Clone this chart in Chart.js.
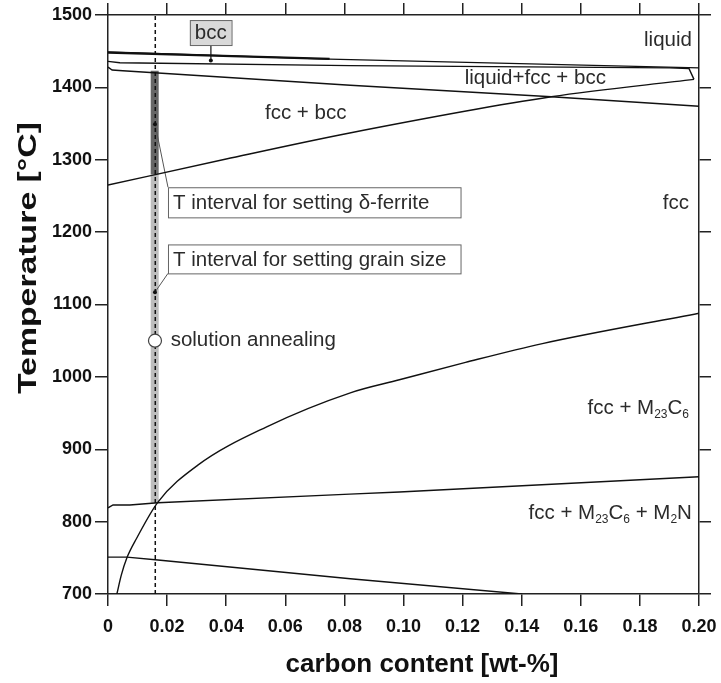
<!DOCTYPE html>
<html>
<head>
<meta charset="utf-8">
<script src="https://cdn.jsdelivr.net/npm/chart.js@4.4.0/dist/chart.umd.min.js"></script>
<style>
  html, body { margin: 0; padding: 0; background: #fff; }
</style>
</head>
<body>
<canvas id="phaseChart" width="721" height="683"></canvas>
<script>
// axis ticks
const xTicks = [0, 0.02, 0.04, 0.06, 0.08, 0.10, 0.12, 0.14, 0.16, 0.18, 0.20];
const xTickLabels = ["0", "0.02", "0.04", "0.06", "0.08", "0.10", "0.12", "0.14", "0.16", "0.18", "0.20"];
const yTicks = [700, 800, 900, 1000, 1100, 1200, 1300, 1400, 1500];
const yTickLabels = ["700", "800", "900", "1000", "1100", "1200", "1300", "1400", "1500"];

// phase boundaries, [carbon wt-%, temperature °C]
const liquidus = [[0, 1449], [0.075, 1439], [0.2, 1427]];
const bccUpper = [[0, 1448], [0.075, 1439.5]];
const bccLower = [[0, 1436], [0.004, 1434], [0.082, 1430], [0.19, 1427], [0.1966, 1426], [0.1983, 1411]];
const fccBccUpper = [[0, 1428], [0.0014, 1424], [0.005, 1423], [0.082, 1403], [0.15, 1387], [0.2, 1374]];
const fccBccLower = [[0, 1265], [0.04, 1301], [0.0818, 1337], [0.15, 1387], [0.1983, 1411]];
const m23c6Solvus = [[0.003, 700], [0.0045, 726], [0.0064, 750], [0.0097, 777], [0.0169, 827], [0.0304, 878],
  [0.0537, 931], [0.082, 978], [0.0986, 996], [0.121, 1020], [0.147, 1046], [0.2, 1088]];
const m2nSolvus = [[0, 819], [0.0017, 823], [0.0074, 823], [0.0169, 826], [0.0818, 838], [0.0986, 841], [0.2, 862]];
const lowerLine = [[0, 751], [0.0064, 751], [0.0169, 747], [0.082, 721], [0.14, 700]];

// steel composition and process windows
const steelCarbon = [[0.016, 700], [0.016, 1500]];
const deltaFerriteInterval = [[0.0158, 1280], [0.0158, 1423]];
const grainSizeInterval = [[0.0158, 826], [0.0158, 1280]];
const solutionAnnealing = [[0.0159, 1050]];
const markerDots = [[0.0159, 1349], [0.0159, 1117], [0.0348, 1437]];
const leaderDelta = [[0.0203, 1262], [0.0163, 1342], [0.0159, 1349]];
const leaderGrain = [[0.0203, 1143], [0.0159, 1117]];
const leaderBcc = [[0.0348, 1458.5], [0.0348, 1437]];

const FONT = "'Liberation Sans', Arial, sans-serif";
const TEXT_COLOR = "#2b2b2b";

function toPoints(arr) {
  return arr.map(([x, y]) => ({ x: x, y: y }));
}

function lineSet(label, data, extra) {
  return Object.assign({
    label: label,
    data: toPoints(data),
    showLine: true,
    borderColor: "#111",
    borderWidth: 1.4,
    pointRadius: 0,
    fill: false,
    tension: 0,
    order: 1
  }, extra || {});
}

// labels inside the plot (positions in data units)
const regionLabels = [
  { parts: [["liquid"]], x: 0.1976, y: 1465, align: "right" },
  { parts: [["liquid+fcc + bcc"]], x: 0.1446, y: 1413, align: "center" },
  { parts: [["fcc + bcc"]], x: 0.0669, y: 1364, align: "center" },
  { parts: [["fcc"]], x: 0.1966, y: 1240, align: "right" },
  { parts: [["fcc + M"], ["23", true], ["C"], ["6", true]], x: 0.1966, y: 956, align: "right" },
  { parts: [["fcc + M"], ["23", true], ["C"], ["6", true], [" + M"], ["2", true], ["N"]], x: 0.1976, y: 811, align: "right" },
  { parts: [["solution annealing"]], x: 0.0212, y: 1051, align: "left" }
];
const boxLabels = [
  { text: "T interval for setting \u03b4-ferrite", x0: 0.0203, x1: 0.1193, y0: 1262, y1: 1220.4, fill: "#fff" },
  { text: "T interval for setting grain size", x0: 0.0203, x1: 0.1193, y0: 1183, y1: 1143, fill: "#fff" },
  { text: "bcc", x0: 0.0277, x1: 0.0418, y0: 1493, y1: 1458.5, fill: "#d9d9d9", center: true }
];

function drawParts(ctx, parts, x, y, align) {
  const mainFont = "20.5px " + FONT;
  const subFont = "12px " + FONT;
  let total = 0;
  parts.forEach(([t, sub]) => {
    ctx.font = sub ? subFont : mainFont;
    total += ctx.measureText(t).width;
  });
  let cx = align === "right" ? x - total : align === "center" ? x - total / 2 : x;
  ctx.textAlign = "left";
  ctx.textBaseline = "middle";
  parts.forEach(([t, sub]) => {
    ctx.font = sub ? subFont : mainFont;
    ctx.fillText(t, cx, sub ? y + 6 : y);
    cx += ctx.measureText(t).width;
  });
}

const annotations = {
  id: "annotations",
  afterDatasetsDraw(chart) {
    const ctx = chart.ctx;
    const xs = chart.scales.x;
    const ys = chart.scales.y;
    ctx.save();
    ctx.fillStyle = TEXT_COLOR;
    regionLabels.forEach(l => {
      drawParts(ctx, l.parts, xs.getPixelForValue(l.x), ys.getPixelForValue(l.y), l.align);
    });
    boxLabels.forEach(b => {
      const left = xs.getPixelForValue(b.x0);
      const right = xs.getPixelForValue(b.x1);
      const top = ys.getPixelForValue(b.y0);
      const bottom = ys.getPixelForValue(b.y1);
      ctx.fillStyle = b.fill;
      ctx.fillRect(left, top, right - left, bottom - top);
      ctx.strokeStyle = "#666";
      ctx.lineWidth = 1;
      ctx.strokeRect(left + 0.5, top + 0.5, right - left, bottom - top);
      ctx.fillStyle = TEXT_COLOR;
      ctx.font = "20.5px " + FONT;
      ctx.textBaseline = "middle";
      if (b.center) {
        ctx.textAlign = "center";
        ctx.fillText(b.text, (left + right) / 2, (top + bottom) / 2 + 1);
      } else {
        ctx.textAlign = "left";
        ctx.fillText(b.text, left + 5, (top + bottom) / 2 + 1);
      }
    });
    ctx.restore();
  },
  afterDraw(chart) {
    // axis titles, placed like the original (not centred on the plot)
    const ctx = chart.ctx;
    const area = chart.chartArea;
    ctx.save();
    ctx.fillStyle = "#111";
    ctx.font = "bold 26px " + FONT;
    ctx.textAlign = "center";
    ctx.textBaseline = "middle";
    ctx.fillText("carbon content [wt-%]", area.left + 314, 665);
    ctx.translate(29, area.top + 243);
    ctx.rotate(-Math.PI / 2);
    ctx.scale(1.3, 1);
    ctx.fillText("Temperature [\u00b0C]", 0, 0);
    ctx.restore();
  }
};

const axisGrid = { drawOnChartArea: false, tickLength: 12, color: "#222", lineWidth: 1.5 };
const axisBorder = { color: "#222", width: 1.5 };
const tickFont = { family: FONT, size: 18, weight: "bold" };

function noSidePadding(s) {
  s.paddingLeft = 0;
  s.paddingRight = 0;
}

new Chart(document.getElementById("phaseChart"), {
  type: "scatter",
  data: {
    datasets: [
      lineSet("carbon content", steelCarbon, { borderDash: [4, 3], borderWidth: 1.5, order: 0 }),
      lineSet("delta ferrite interval", deltaFerriteInterval, { borderColor: "#666", borderWidth: 8, borderCapStyle: "butt", order: 5 }),
      lineSet("grain size interval", grainSizeInterval, { borderColor: "#bdbdbd", borderWidth: 8, borderCapStyle: "butt", order: 5 }),
      lineSet("liquidus", liquidus),
      lineSet("bcc upper", bccUpper, { borderWidth: 2.2 }),
      lineSet("bcc lower", bccLower),
      lineSet("fcc+bcc upper", fccBccUpper),
      lineSet("fcc+bcc lower", fccBccLower, { cubicInterpolationMode: "monotone" }),
      lineSet("M23C6 solvus", m23c6Solvus, { cubicInterpolationMode: "monotone" }),
      lineSet("M2N solvus", m2nSolvus),
      lineSet("lower boundary", lowerLine),
      lineSet("leader delta", leaderDelta, { borderColor: "#555", borderWidth: 1 }),
      lineSet("leader grain", leaderGrain, { borderColor: "#555", borderWidth: 1 }),
      lineSet("leader bcc", leaderBcc, { borderColor: "#555", borderWidth: 1 }),
      { label: "markers", data: toPoints(markerDots), showLine: false, pointRadius: 2, pointBackgroundColor: "#111", pointBorderWidth: 0, order: 0 },
      { label: "solution annealing", data: toPoints(solutionAnnealing), showLine: false, pointRadius: 6.5,
        pointBackgroundColor: "#fff", pointBorderColor: "#444", pointBorderWidth: 1.2, order: -1 }
    ]
  },
  options: {
    responsive: false,
    animation: false,
    devicePixelRatio: 1,
    layout: { padding: 0 },
    plugins: { legend: { display: false }, tooltip: { enabled: false } },
    scales: {
      x: {
        type: "linear", position: "bottom", min: 0, max: 0.2,
        afterBuildTicks: s => { s.ticks = xTicks.map(v => ({ value: v })); },
        afterFit: s => { s.height = 89; noSidePadding(s); },
        ticks: { callback: (v, i) => xTickLabels[i], font: tickFont, color: "#111", padding: 10, maxRotation: 0, autoSkip: false },
        grid: axisGrid,
        border: axisBorder
      },
      x2: {
        type: "linear", axis: "x", position: "top", min: 0, max: 0.2,
        afterBuildTicks: s => { s.ticks = xTicks.map(v => ({ value: v })); },
        afterFit: s => { s.height = 15; noSidePadding(s); },
        ticks: { display: false },
        grid: axisGrid,
        border: axisBorder
      },
      y: {
        type: "linear", position: "left", min: 700, max: 1500,
        afterBuildTicks: s => { s.ticks = yTicks.map(v => ({ value: v })); },
        afterFit: s => { s.width = 108; },
        ticks: { callback: (v, i) => yTickLabels[i], font: tickFont, color: "#111", padding: 3, autoSkip: false },
        grid: Object.assign({}, axisGrid, { tickLength: 13 }),
        border: axisBorder
      },
      y2: {
        type: "linear", axis: "y", position: "right", min: 700, max: 1500,
        afterBuildTicks: s => { s.ticks = yTicks.map(v => ({ value: v })); },
        afterFit: s => { s.width = 22; },
        ticks: { display: false },
        grid: axisGrid,
        border: axisBorder
      }
    }
  },
  plugins: [annotations]
});
</script>
</body>
</html>
